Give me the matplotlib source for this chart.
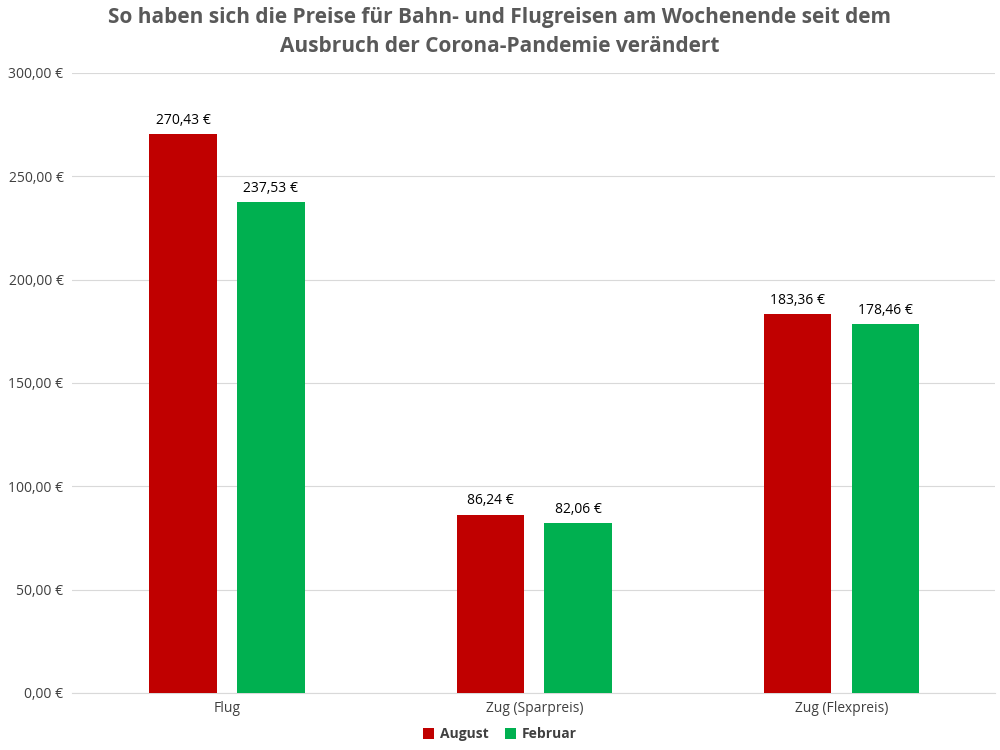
import matplotlib
matplotlib.use("Agg")
import matplotlib.pyplot as plt
import numpy as np

categories = ["Flug", "Zug (Sparpreis)", "Zug (Flexpreis)"]
august = [270.43, 86.24, 183.36]
februar = [237.53, 82.06, 178.46]
series_names = ["August", "Februar"]

plt.rcParams["font.family"] = "Open Sans"
fig = plt.figure(figsize=(10, 7.5), dpi=100)
ax = fig.add_axes([0.072, 0.076, 0.923, 0.827])

def fmt(v):
    return f"{v:.2f}".replace(".", ",") + " €"

x = np.arange(len(categories))
w = 0.22
off = 0.143
b1 = ax.bar(x - off, august, w, color="#C00000", label=series_names[0], zorder=3)
b2 = ax.bar(x + off, februar, w, color="#00B050", label=series_names[1], zorder=3)
for bars in (b1, b2):
    for r in bars:
        ax.text(r.get_x() + r.get_width() / 2, r.get_height() + 3, fmt(r.get_height()),
                ha="center", va="bottom", fontsize=10, color="#000000")

ax.set_xlim(-0.505, 2.5)
ax.set_ylim(0, 300)
ax.set_yticks(np.arange(0, 301, 50))
ax.set_yticklabels([fmt(v) for v in np.arange(0, 301, 50)], fontsize=10, color="#404040")
ax.set_xticks(x)
ax.set_xticklabels(categories, fontsize=10, color="#404040")
ax.tick_params(length=0, pad=6)
ax.grid(axis="y", color="#D9D9D9", linewidth=0.8, zorder=0)
for s in ["top", "right", "left"]:
    ax.spines[s].set_visible(False)
ax.spines["bottom"].set_color("#D9D9D9")

fig.suptitle("So haben sich die Preise für Bahn- und Flugreisen am Wochenende seit dem\nAusbruch der Corona-Pandemie verändert",
             y=0.99, fontsize=15, fontweight="bold", color="#595959", linespacing=1.5)
leg = fig.legend(loc="lower center", bbox_to_anchor=(0.5, -0.005), ncol=2, frameon=False,
                 handlelength=0.8, handleheight=0.8, columnspacing=1.2, handletextpad=0.4,
                 prop={"weight": "bold", "size": 10})
for t in leg.get_texts():
    t.set_color("#404040")
fig.savefig("out.png", dpi=100)
